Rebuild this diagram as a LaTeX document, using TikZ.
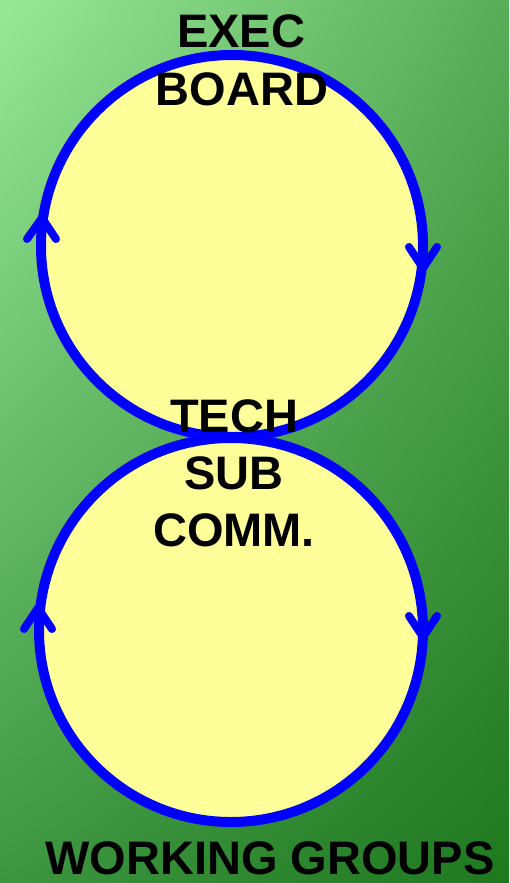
\documentclass[tikz,border=0pt]{standalone}
\usepackage{fontspec}
\setmainfont{Liberation Sans}
\usetikzlibrary{shadings}
\definecolor{bgtl}{RGB}{152,232,152}
\definecolor{bgtr}{RGB}{88,174,88}
\definecolor{bgbl}{RGB}{60,150,64}
\definecolor{bgbr}{RGB}{30,120,30}
\definecolor{ringfill}{RGB}{255,255,153}
\definecolor{ringblue}{RGB}{0,0,255}
\begin{document}
\begin{tikzpicture}[x=1pt,y=-1pt,
  ring/.style={circle,draw=ringblue,fill=ringfill,line width=10pt,inner sep=0pt,minimum size=#1},
  lbl/.style={font=\fontsize{47}{57}\selectfont\bfseries,text=black,inner sep=0pt,anchor=base},
  chev/.style={draw=ringblue,line width=8pt,line cap=round,line join=round}]
\useasboundingbox (0pt,0pt) rectangle (509pt,-883pt);
\shade[upper left=bgtl,upper right=bgtr,lower left=bgbl,lower right=bgbr] (0pt,0pt) rectangle (509pt,-883pt);
% circles
\node[ring=382pt] (top) at (232,246) {};
\node[ring=384pt] (bot) at (231,630) {};
% arrowheads
\coordinate (a1) at (42,218);
\draw[chev] (27,239) -- (a1) -- (56,239);
\coordinate (a2) at (423,268);
\draw[chev] (409,247) -- (a2) -- (437,247);
\coordinate (a3) at (38,608);
\draw[chev] (24,629) -- (a3) -- (52,629);
\coordinate (a4) at (423,637);
\draw[chev] (409,616) -- (a4) -- (437,616);
% labels
\node[lbl] (exec) at (241,48) {EXEC};
\node[lbl] (board) at (242,105) {BOARD};
\node[lbl] (tech) at (234,432) {TECH};
\node[lbl] (sub) at (234,489) {SUB};
\node[lbl] (comm) at (234,546) {COMM.};
\node[lbl] (wg) at (270,874) {WORKING GROUPS};
\end{tikzpicture}
\end{document}
